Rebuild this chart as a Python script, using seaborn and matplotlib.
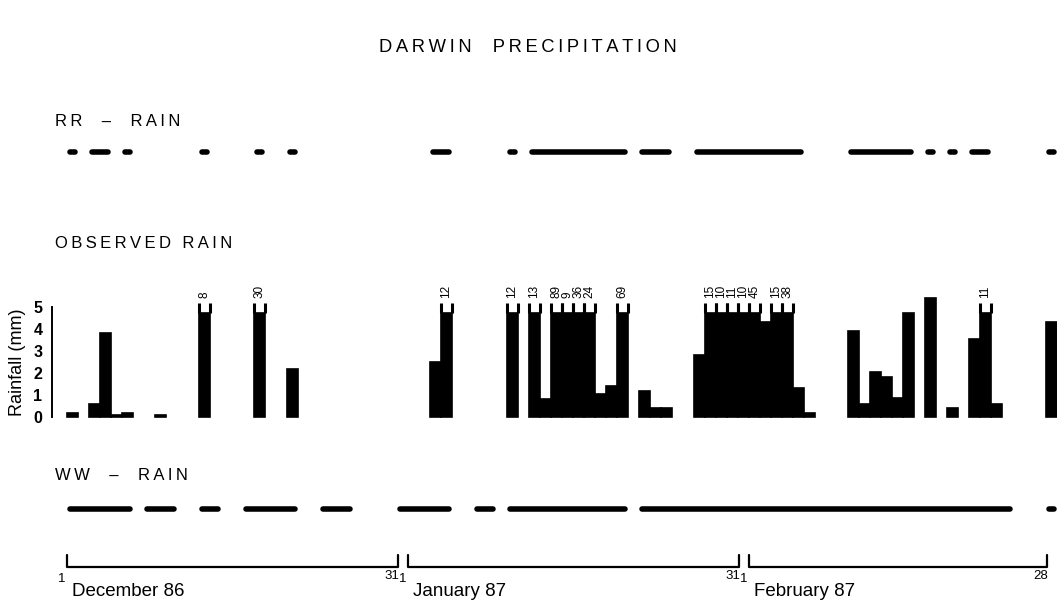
# Darwin precipitation: radar rain flags (RR, WW) against observed daily rainfall
import matplotlib
matplotlib.use("Agg")
import matplotlib.pyplot as plt
import seaborn as sns
import pandas as pd


# ------------------------------------------------------------
# 1. Data
# ------------------------------------------------------------

MONTHS = ["December 86", "January 87", "February 87"]
MONTH_LENGTHS = [31, 31, 28]

# observed rain (mm) per day with rain
DEC_RAIN_DAYS = [1, 3, 4, 5, 6, 9, 13, 18, 21]
DEC_RAIN_MM = [0.2, 0.6, 3.8, 0.1, 0.2, 0.1, 8, 30, 2.2]
JAN_RAIN_DAYS = [3, 4, 10, 12, 13, 14, 15, 16, 17, 18, 19, 20, 22, 23, 24, 27, 28, 29, 30, 31]
JAN_RAIN_MM = [2.5, 12, 12, 13, 0.8, 89, 9, 36, 24, 1.05, 1.4, 69, 1.2, 0.4, 0.4, 2.8, 15, 10, 11, 10]
FEB_RAIN_DAYS = [1, 2, 3, 4, 5, 6, 10, 11, 12, 13, 14, 15, 17, 19, 21, 22, 23, 28]
FEB_RAIN_MM = [45, 4.3, 15, 38, 1.3, 0.2, 3.9, 0.6, 2.05, 1.8, 0.85, 4.75, 5.4, 0.4, 3.55, 11, 0.6, 4.3]

# RR - rain flagged days
RR_DEC = [1, 3, 4, 6, 13, 18, 21]
RR_JAN = [3, 4, 10, 12, 13, 14, 15, 16, 17, 18, 19, 20, 22, 23, 24, 27, 28, 29, 30, 31]
RR_FEB = [1, 2, 3, 4, 5, 10, 11, 12, 13, 14, 15, 17, 19, 21, 22, 28]

# WW - rain flagged days
WW_DEC = [1, 2, 3, 4, 5, 6, 8, 9, 10, 13, 14, 17, 18, 19, 20, 21, 24, 25, 26, 31]
WW_JAN = [1, 2, 3, 4, 7, 8, 10, 11, 12, 13, 14, 15, 16, 17, 18, 19, 20,
          22, 23, 24, 25, 26, 27, 28, 29, 30, 31]
WW_FEB = [1, 2, 3, 4, 5, 6, 7, 8, 9, 10, 11, 12, 13, 14, 15, 16, 17, 18,
          19, 20, 21, 22, 23, 24, 28]

CAP_LIMIT = 6      # rain above this is drawn as a broken bar with its value on top


# ------------------------------------------------------------
# 2. Layout (figure pixels)
# ------------------------------------------------------------

W, H = 1057, 605
DAY_PX = 11.0            # width of one day
FIRST_DAY_PX = 72.5      # centre of 1 December
XLIM = (-FIRST_DAY_PX / DAY_PX, (W - FIRST_DAY_PX) / DAY_PX)

BASE_PX, TOP_PX = 417, 307   # 0 mm and 5 mm
RR_Y, WW_Y = 152, 509
BRACKET_TOP, BRACKET_LINE = 555, 567

FONTS = ["Liberation Sans", "DejaVu Sans"]


def px(x):
    return x / W


def py(y):
    return 1 - y / H


def to_index(month_pos, days):
    offset = sum(MONTH_LENGTHS[:month_pos])
    return [offset + d - 1 for d in days]


def runs(indices):
    groups = []
    for i in sorted(indices):
        if groups and i == groups[-1][1] + 1:
            groups[-1][1] = i
        else:
            groups.append([i, i])
    return groups


def spaced(text):
    return "\u2009".join(text)


# ------------------------------------------------------------
# 3. Build the figure
# ------------------------------------------------------------

sns.set_style("white")
plt.rcParams["font.family"] = FONTS
plt.rcParams["text.color"] = "black"
plt.rcParams["axes.labelcolor"] = "black"
plt.rcParams["ytick.color"] = "black"

rain = pd.DataFrame({
    "day": to_index(0, DEC_RAIN_DAYS) + to_index(1, JAN_RAIN_DAYS) + to_index(2, FEB_RAIN_DAYS),
    "rain_mm": DEC_RAIN_MM + JAN_RAIN_MM + FEB_RAIN_MM,
})
CAP_FILL, CAP_TOP, LABEL_Y = 4.72, 5.2, 5.42
rain["bar"] = rain["rain_mm"].where(rain["rain_mm"] <= CAP_LIMIT, CAP_FILL)

fig = plt.figure(figsize=(W / 100, H / 100), dpi=100)

ax = fig.add_axes([0, py(BASE_PX), 1, (BASE_PX - TOP_PX) / H])
sns.barplot(data=rain, x="day", y="bar", native_scale=True, orient="x",
            color="black", saturation=1, width=1.0, edgecolor="black",
            linewidth=1.2, errorbar=None, ax=ax)
for patch in ax.patches:
    patch.set_clip_on(False)

capped = rain[rain["rain_mm"] > CAP_LIMIT]
for day, value in zip(capped["day"], capped["rain_mm"]):
    ax.vlines([day - 0.5, day + 0.5], CAP_FILL, CAP_TOP, colors="black",
              linewidth=2.2, clip_on=False)
    ax.text(day, LABEL_Y, f"{value:g}", rotation=90, ha="center", va="bottom",
            fontsize=8.5, clip_on=False)

ax.set_xlim(XLIM)
ax.set_ylim(0, 5)
ax.set_xticks([])
ax.set_yticks(range(6))
ax.set_xlabel("")
ax.set_ylabel("")
ax.patch.set_alpha(0)
for side in ["top", "right", "bottom"]:
    ax.spines[side].set_visible(False)
ax.spines["left"].set_position(("data", (52 - FIRST_DAY_PX) / DAY_PX))
ax.spines["left"].set_bounds(0, 5)
ax.spines["left"].set_linewidth(1.4)
ax.spines["left"].set_color("black")
ax.tick_params(axis="y", direction="out", length=4, width=1.6, pad=3,
               labelsize=11.5, colors="black")
for label in ax.get_yticklabels():
    label.set_fontweight("bold")

# overlay in day units horizontally and pixels vertically
ov = fig.add_axes([0, 0, 1, 1])
ov.set_xlim(XLIM)
ov.set_ylim(H, 0)
ov.axis("off")

for y, flagged in [(RR_Y, to_index(0, RR_DEC) + to_index(1, RR_JAN) + to_index(2, RR_FEB)),
                   (WW_Y, to_index(0, WW_DEC) + to_index(1, WW_JAN) + to_index(2, WW_FEB))]:
    for start, end in runs(flagged):
        ov.hlines(y, start - 0.25, end + 0.25, colors="black", linewidth=4,
                  capstyle="round")

# month brackets
for m, (name, length) in enumerate(zip(MONTHS, MONTH_LENGTHS)):
    first = to_index(m, [1])[0]
    x0, x1 = first - 0.5, first + length - 1.4
    ov.plot([x0, x0, x1, x1], [BRACKET_TOP, BRACKET_LINE, BRACKET_LINE, BRACKET_TOP],
            color="black", linewidth=1.6)
    ov.text(x0 - 0.1, 579, "1", ha="right", va="center", fontsize=9.5)
    ov.text(x1 + 0.1, 576, str(length), ha="right", va="center", fontsize=9.5)
    ov.text(x0 + 0.5, 591, name, ha="left", va="center", fontsize=13.5)

# titles
fig.text(px(528), py(47), spaced("DARWIN  PRECIPITATION"), ha="center", va="center",
         fontsize=13.2)
fig.text(px(55), py(122), spaced("RR  –  RAIN"), ha="left", va="center", fontsize=12)
fig.text(px(55), py(243), spaced("OBSERVED RAIN"), ha="left", va="center", fontsize=12)
fig.text(px(55), py(476), spaced("WW  –  RAIN"), ha="left", va="center", fontsize=12)
fig.text(px(18), py(362), "Rainfall (mm)", rotation=90, ha="center", va="center",
         fontsize=13)

fig.savefig("out.png", dpi=100)
